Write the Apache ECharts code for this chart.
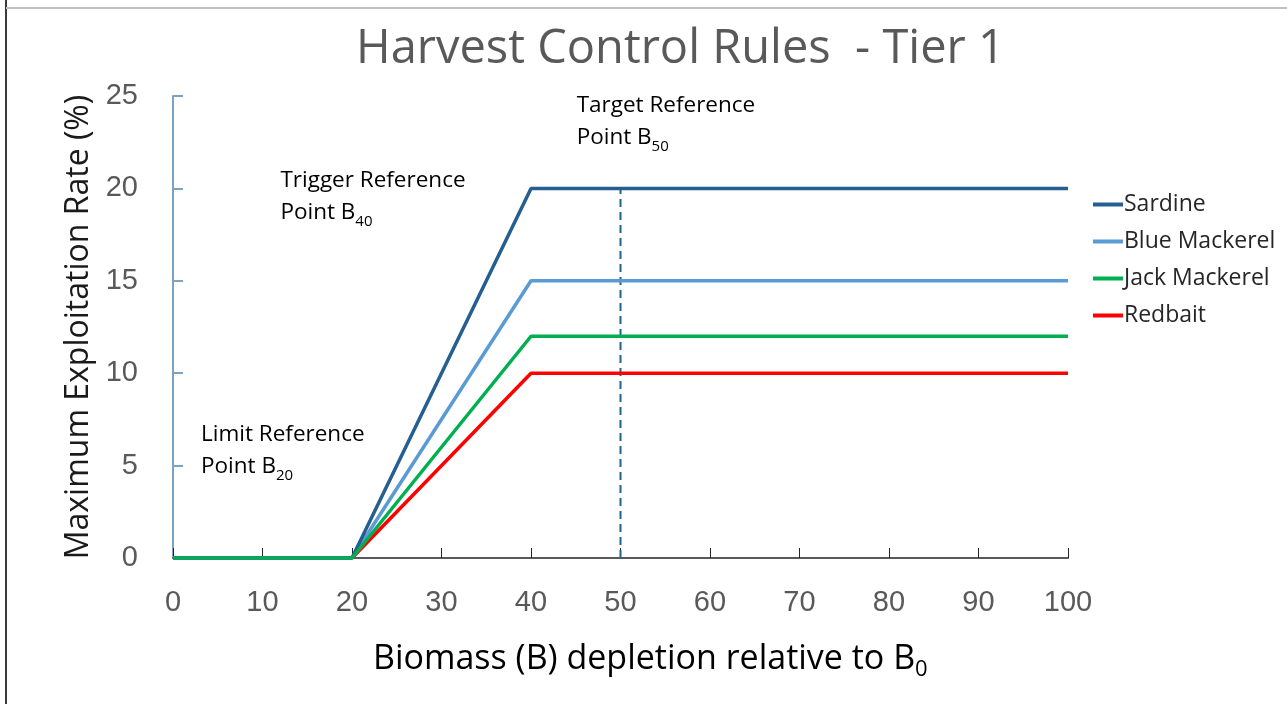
<!DOCTYPE html>
<html>
<head>
<meta charset="utf-8">
<script src="https://cdn.jsdelivr.net/npm/echarts@6/dist/echarts.min.js"></script>
<style>
html,body{margin:0;padding:0;background:#fff;}
#main{width:1287px;height:704px;}
</style>
</head>
<body>
<div id="main"></div>
<script>
// ---- data ----
var biomass = [0, 20, 40, 100];
var sardine = [0, 0, 20, 20];
var blueMackerel = [0, 0, 15, 15];
var jackMackerel = [0, 0, 12, 12];
var redbait = [0, 0, 10, 10];
var seriesNames = ['Sardine', 'Blue Mackerel', 'Jack Mackerel', 'Redbait'];
var seriesColors = ['#255e91', '#5b9bd5', '#00b050', '#ff0000'];
var targetX = 50;
var targetY = [0, 20];
var xTicks = [0, 10, 20, 30, 40, 50, 60, 70, 80, 90, 100];
var yTicks = [0, 5, 10, 15, 20, 25];
var annotations = [
  {x: 12, y: 21.27, l1: 'Trigger Reference', l2: 'Point B', sub: '40'},
  {x: 3.13, y: 7.52, l1: 'Limit Reference', l2: 'Point B', sub: '20'},
  {x: 45.1, y: 25.32, l1: 'Target Reference', l2: 'Point B', sub: '50'}
];

function pairs(xs, ys) { return xs.map(function (x, i) { return [x, ys[i]]; }); }
var allSeries = [sardine, blueMackerel, jackMackerel, redbait];

var FONT = 'Open Sans';
var TFONT = 'Liberation Sans';
var chart = echarts.init(document.getElementById('main'), null, {renderer: 'canvas'});

var series = allSeries.map(function (vals, i) {
  return {
    name: seriesNames[i], type: 'line', data: pairs(biomass, vals),
    symbol: 'none', color: seriesColors[i],
    lineStyle: {width: 3.5, color: seriesColors[i]},
    z: 10 - i, animation: false
  };
});
series[2].z = 12;
series.push({
  name: 'target', type: 'line', data: [[targetX, targetY[0]], [targetX, targetY[1]]],
  symbol: 'none', lineStyle: {width: 2, color: '#1f6391', type: [8, 5]}, z: 5, animation: false
});

var richStyle = {
  n: {fontSize: 22.5, lineHeight: 32, fontFamily: FONT, color: '#111', verticalAlign: 'middle'},
  s: {fontSize: 15, lineHeight: 15, fontFamily: FONT, color: '#111', verticalAlign: 'bottom'}
};

chart.setOption({
  animation: false,
  backgroundColor: '#fff',
  title: {
    text: 'Harvest Control Rules  - Tier 1', left: 351, top: 21,
    textStyle: {fontSize: 47, fontWeight: 'normal', color: '#595959', fontFamily: FONT}
  },
  legend: {
    orient: 'vertical', left: 1088, top: 188, itemWidth: 30, itemHeight: 4, itemGap: 14,
    data: seriesNames, icon: 'rect',
    textStyle: {fontSize: 23, color: '#262626', fontFamily: FONT, padding: [0, 0, 0, -4]}
  },
  grid: {left: 173, right: 219, top: 96, bottom: 146},
  xAxis: {
    type: 'value', min: 0, max: 100, interval: 10,
    axisLine: {lineStyle: {color: '#595959', width: 2}},
    axisTick: {inside: true, length: 10, lineStyle: {color: '#262626', width: 1}},
    axisLabel: {fontSize: 29, color: '#595959', margin: 30, fontFamily: TFONT},
    splitLine: {show: false}
  },
  yAxis: {
    type: 'value', min: 0, max: 25, interval: 5,
    name: 'Maximum Exploitation Rate (%)', nameLocation: 'middle', nameGap: 75,
    nameTextStyle: {fontSize: 32, color: '#1a1a1a', fontFamily: FONT},
    axisLine: {show: true, lineStyle: {color: '#7ea3bf', width: 2}},
    axisTick: {show: true, inside: true, length: 10, lineStyle: {color: '#7ea3bf', width: 2}},
    axisLabel: {fontSize: 29, color: '#595959', margin: 35, fontFamily: TFONT},
    splitLine: {show: false}
  },
  series: series
});

function buildGraphics() {
  var g = [
    {type: 'rect', shape: {x: 5, y: 0, width: 2, height: 704}, style: {fill: '#3a3a3a'}, z: 100},
    {type: 'rect', shape: {x: 6, y: 7, width: 1281, height: 2}, style: {fill: '#c0c0c0'}, z: 100},
    {
      type: 'text', left: 373, top: 642, z: 100,
      style: {
        text: '{n|Biomass (B) depletion relative to B}{s|0}',
        rich: {
          n: {fontSize: 34, lineHeight: 44, fontFamily: FONT, color: '#595959', verticalAlign: 'middle'},
          s: {fontSize: 22, lineHeight: 22, fontFamily: FONT, color: '#595959', verticalAlign: 'bottom'}
        }
      }
    }
  ];
  annotations.forEach(function (a) {
    var p = chart.convertToPixel({gridIndex: 0}, [a.x, a.y]);
    g.push({
      type: 'text', x: p[0], y: p[1], z: 100,
      style: {
        text: '{n|' + a.l1 + '}\n{n|' + a.l2 + '}{s|' + a.sub + '}',
        rich: richStyle, verticalAlign: 'top', align: 'left'
      }
    });
  });
  chart.setOption({graphic: g});
}
buildGraphics();
</script>
</body>
</html>
